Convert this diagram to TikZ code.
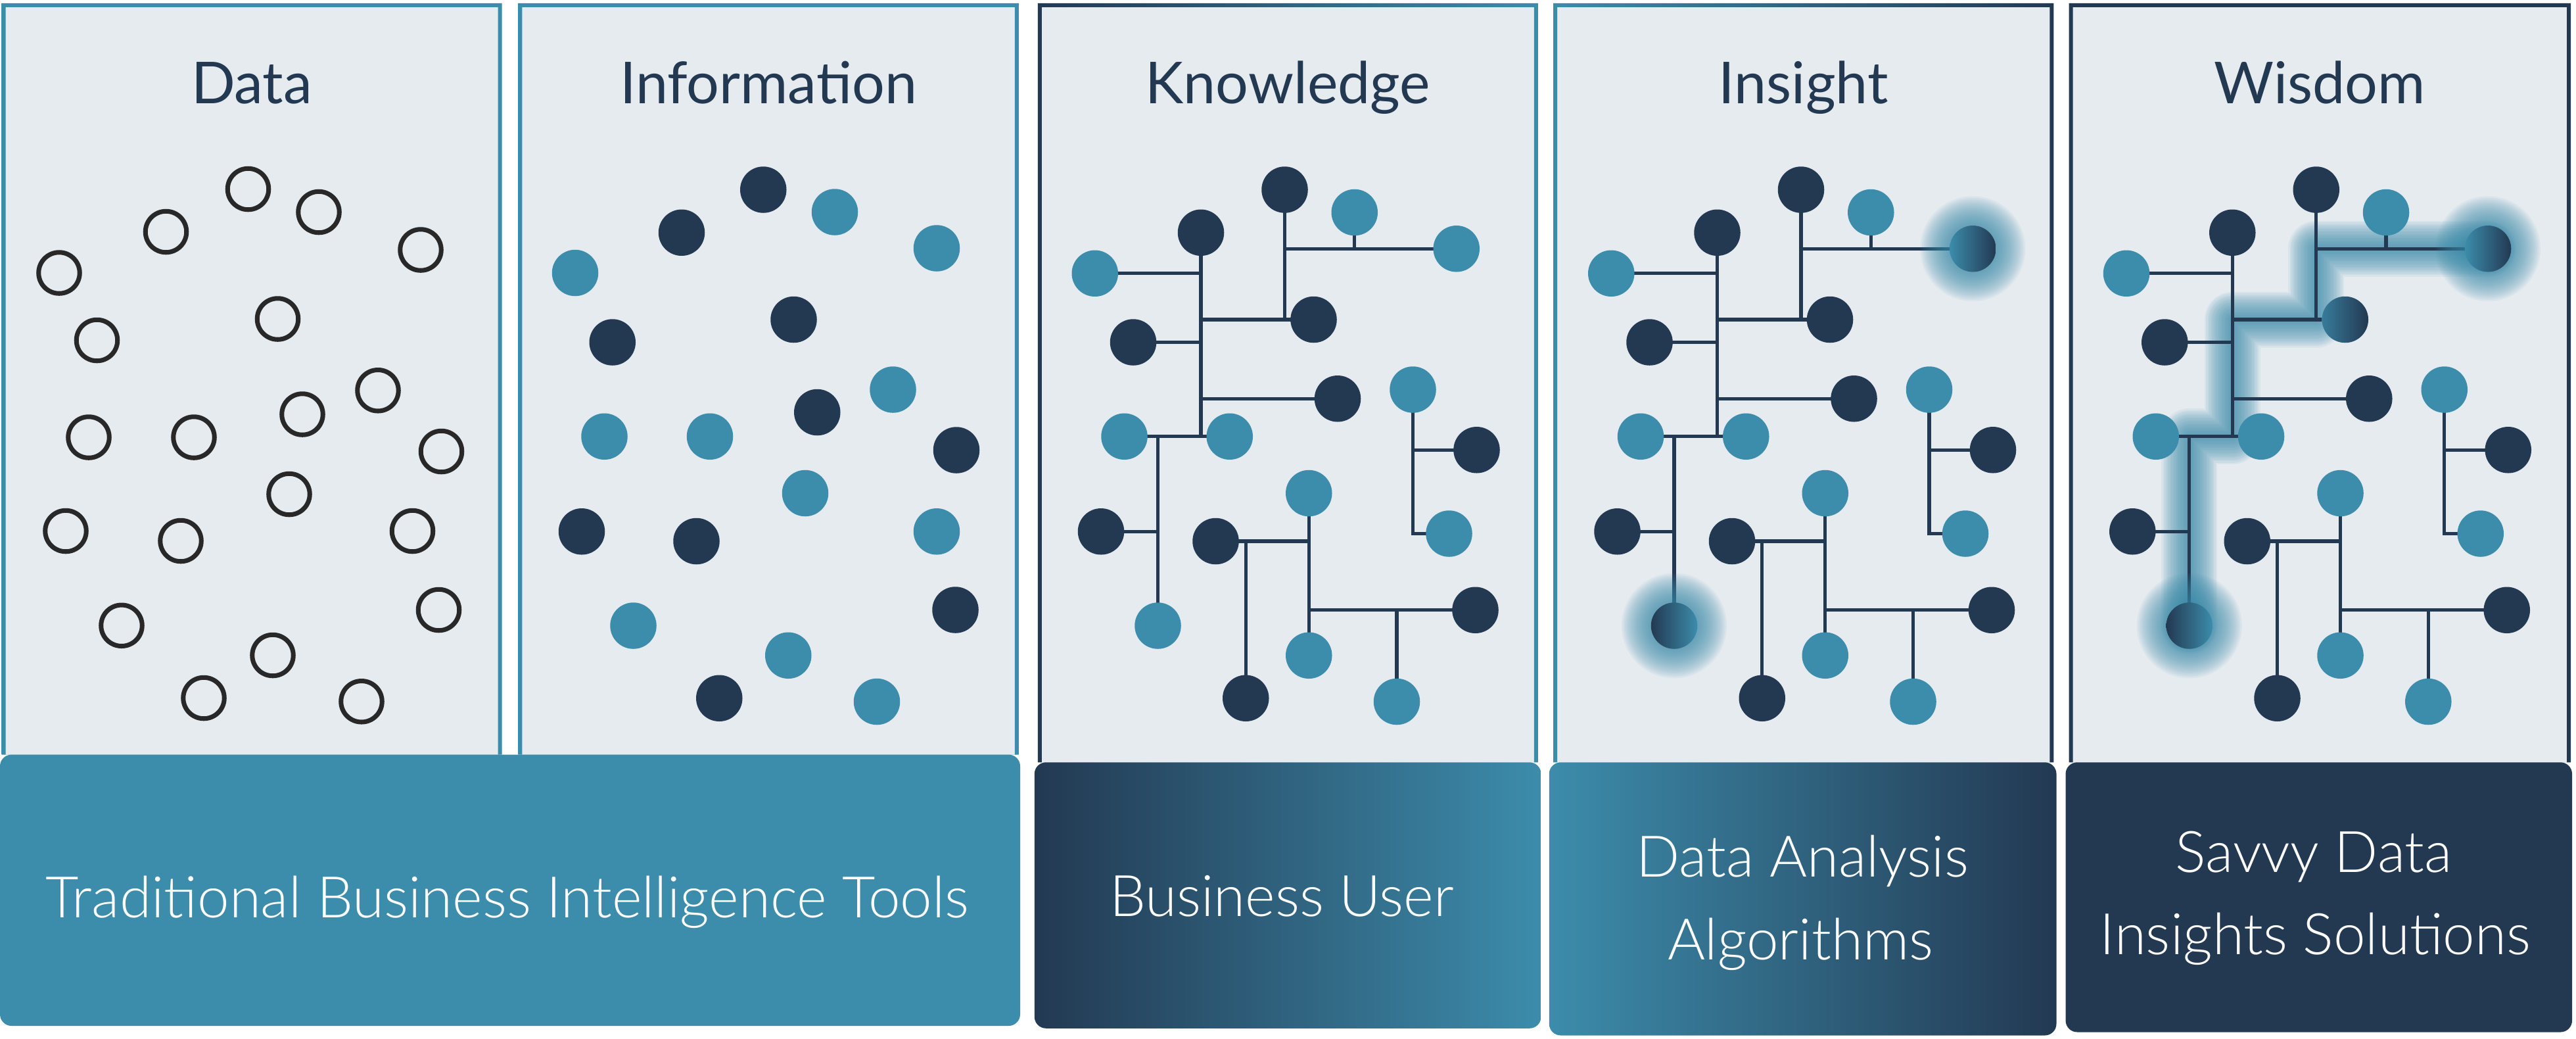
\documentclass[tikz,border=0pt]{standalone}
\usepackage{fontspec}
\setmainfont{Lato}
\IfFontExistsTF{Lato Light}{\newfontfamily\lightfont{Lato Light}}{\newfontfamily\lightfont{Lato}}
\usetikzlibrary{calc}

\definecolor{cTeal}{HTML}{3C8CAB}
\definecolor{cNavy}{HTML}{233952}
\definecolor{cPanel}{HTML}{E6EBF0}
\definecolor{cRing}{HTML}{282828}

\tikzset{
  ring/.style={draw=cRing, line width=2pt},
  link/.style={draw=cNavy, line width=1.5pt},
  paneltitle/.style={text=cNavy, font=\fontsize{25}{30}\selectfont, anchor=base, inner sep=0pt},
  boxtext/.style={text=white, font=\lightfont\fontsize{24.8}{30}\selectfont, anchor=base, inner sep=0pt},
  boxshape/.style={rounded corners=5pt},
}

% positions of the branching network (drawn in the Knowledge column, shifted for the others)
\newcommand\treelayout{%
  \coordinate (n1) at (781.8,115.4);
  \coordinate (n2) at (824.3,129.2);
  \coordinate (n3) at (730.8,141.5);
  \coordinate (n4) at (886.3,151.3);
  \coordinate (n5) at (666.3,166.3);
  \coordinate (n6) at (799.4,194.4);
  \coordinate (n7) at (689.6,208.2);
  \coordinate (n8) at (814,242.5);
  \coordinate (n9) at (859.8,237);
  \coordinate (n10) at (684.2,265.5);
  \coordinate (n11) at (748.3,265.5);
  \coordinate (n12) at (898.6,273.7);
  \coordinate (n13) at (796.5,300);
  \coordinate (n14) at (670,323.3);
  \coordinate (n15) at (739.8,329.2);
  \coordinate (n16) at (881.8,324.6);
  \coordinate (n17) at (897.8,371.1);
  \coordinate (n18) at (704.6,380.6);
  \coordinate (n19) at (796.5,398.7);
  \coordinate (n20) at (758.1,424.7);
  \coordinate (n21) at (850,426.8);
}

% soft halo around a highlighted dot
\newcommand\halo[1]{%
  \foreach \r in {32,31,...,15} \fill[cTeal, opacity=0.065] (#1) circle (\r);
}

% #1 = horizontal shift, #2 = 0 plain, 1 two highlighted ends, 2 highlighted route
\newcommand\drawtree[2]{%
\begin{scope}[shift={(#1,0)}]
  \treelayout
  \ifnum#2=2
    \foreach \w in {34,32,...,4}
      \draw[cTeal, opacity=0.08, line width=\w*0.711pt, line join=round, line cap=round]
        (n18) -- (n18 |- n10) -- (n3 |- n10) -- (n3 |- n6) -- (n1 |- n6) -- (n1 |- n4) -- (n4);
  \fi
  \draw[link] (n1) -- (n1 |- n6);
  \draw[link] (n1 |- n4) -- (n4);
  \draw[link] (n2) -- (n2 |- n4);
  \draw[link] (n3) -- (n3 |- n10);
  \draw[link] (n5) -- (n3 |- n5);
  \draw[link] (n3 |- n6) -- (n6);
  \draw[link] (n7) -- (n3 |- n7);
  \draw[link] (n3 |- n8) -- (n8);
  \draw[link] (n10) -- (n11);
  \draw[link] (n18 |- n10) -- (n18);
  \draw[link] (n14) -- (n18 |- n14);
  \draw[link] (n15) -- (n13 |- n15);
  \draw[link] (n13) -- (n19);
  \draw[link] (n20 |- n15) -- (n20);
  \draw[link] (n13 |- n17) -- (n17);
  \draw[link] (n21 |- n17) -- (n21);
  \draw[link] (n9) -- (n9 |- n16) -- (n16);
  \draw[link] (n9 |- n12) -- (n12);
  \foreach \n/\c in {n1/cNavy, n2/cTeal, n3/cNavy, n5/cTeal, n7/cNavy, n8/cNavy,
                     n9/cTeal, n10/cTeal, n11/cTeal, n12/cNavy, n13/cTeal, n14/cNavy,
                     n15/cNavy, n16/cTeal, n17/cNavy, n19/cTeal, n20/cNavy, n21/cTeal}
    \fill[\c] (\n) circle (14.1);
  \ifcase#2
    \fill[cTeal] (n4) circle (14.1);
    \fill[cTeal] (n18) circle (14.1);
    \fill[cNavy] (n6) circle (14.1);
  \or
    \halo{n4}\halo{n18}
    \shade[left color=cTeal, right color=cNavy] (n4) circle (14.1);
    \shade[left color=cNavy, right color=cTeal] (n18) circle (14.1);
    \fill[cNavy] (n6) circle (14.1);
  \or
    \halo{n4}\halo{n18}
    \shade[left color=cTeal, right color=cNavy] (n4) circle (14.1);
    \shade[left color=cNavy, right color=cTeal] (n18) circle (14.1);
    \shade[left color=cTeal!80!cNavy, middle color=cNavy, right color=cNavy] (n6) circle (14.1);
  \fi
\end{scope}}

% column background with a plain or shaded frame
\newcommand\panel[5]{%
  \fill[cPanel] (#1,#2) rectangle (#3,#4);
  \shade[#5, even odd rule]
    (#1-1.2,#2-1.2) rectangle (#3+1.2,#4)
    (#1+1.2,#2+1.2) rectangle (#3-1.2,#4);
}

\begin{document}
\begin{tikzpicture}[x=0.025cm, y=-0.025cm]
\useasboundingbox (0,0) rectangle (1567.6,631.7);

% columns
\panel{2.2}{3.1}{304.2}{459}{left color=cTeal, right color=cTeal}
\panel{316.5}{3.1}{618.7}{459}{left color=cTeal, right color=cTeal}
\panel{632.7}{3.1}{934.7}{463.7}{left color=cNavy, right color=cTeal}
\panel{946.4}{3.1}{1248.5}{463.7}{left color=cTeal, right color=cNavy}
\panel{1260.2}{3.1}{1563.2}{463.7}{left color=cNavy, right color=cNavy}

% column titles
\node[paneltitle] (tData) at (153.2,62.8) {Data};
\node[paneltitle] (tInfo) at (467.6,62.8) {Information};
\node[paneltitle] (tKnow) at (783.7,62.8) {Knowledge};
\node[paneltitle] (tIns) at (1097.5,62.8) {Insight};
\node[paneltitle] (tWis) at (1411.7,62.8) {Wisdom};

% raw data: open rings
\foreach \x/\y in {151/115, 194/129, 101/141, 256/152, 36/166, 169/194, 59/207,
                   230/237.5, 184/252, 54/266, 118/266, 268.6/274.6, 176/300.6,
                   40/323, 110/329, 251/323, 74/380.5, 267/371, 166/398.6,
                   124/424.6, 220/426.7}
  \draw[ring] (\x,\y) circle (12.5);

% information: coloured dots
\foreach \x/\y/\c in {464.5/115.4/cNavy, 508/129/cTeal, 414.8/141.5/cNavy, 570/151/cTeal,
                      350/166/cTeal, 483/194.4/cNavy, 372.7/208.2/cNavy, 543.4/237/cTeal,
                      497.3/250.8/cNavy, 367.8/265.5/cTeal, 432/265.5/cTeal, 582/273.8/cNavy,
                      490/300/cTeal, 354/323.3/cNavy, 423.8/329.2/cNavy, 570/323.3/cTeal,
                      581.4/371/cNavy, 385.4/380.6/cTeal, 479.7/398.7/cTeal,
                      437.7/424.7/cNavy, 533.6/426.8/cTeal}
  \fill[\c] (\x,\y) circle (14.1);

% knowledge, insight, wisdom networks
\drawtree{0}{0}
\drawtree{314.2}{1}
\drawtree{627.7}{2}

% bottom boxes
\fill[cTeal, boxshape] (0,459) rectangle (620.8,624);
\shade[left color=cNavy, right color=cTeal, boxshape] (629.5,463.7) rectangle (937.8,625.5);
\shade[left color=cTeal, right color=cNavy, boxshape] (942.7,463.7) rectangle (1251.4,629.8);
\fill[cNavy, boxshape] (1257,463.7) rectangle (1565.2,627.8);

\node[boxtext] (bA) at (308.8,558.1) {Traditional Business Intelligence Tools};
\node[boxtext] (bB) at (780,557.2) {Business User};
\node[boxtext] (bC1) at (1097,533.4) {Data Analysis};
\node[boxtext] (bC2) at (1095.6,583.8) {Algorithms};
\node[boxtext] (bD1) at (1408,530.4) {Savvy Data};
\node[boxtext] (bD2) at (1409,580.4) {Insights Solutions};
\end{tikzpicture}
\end{document}
